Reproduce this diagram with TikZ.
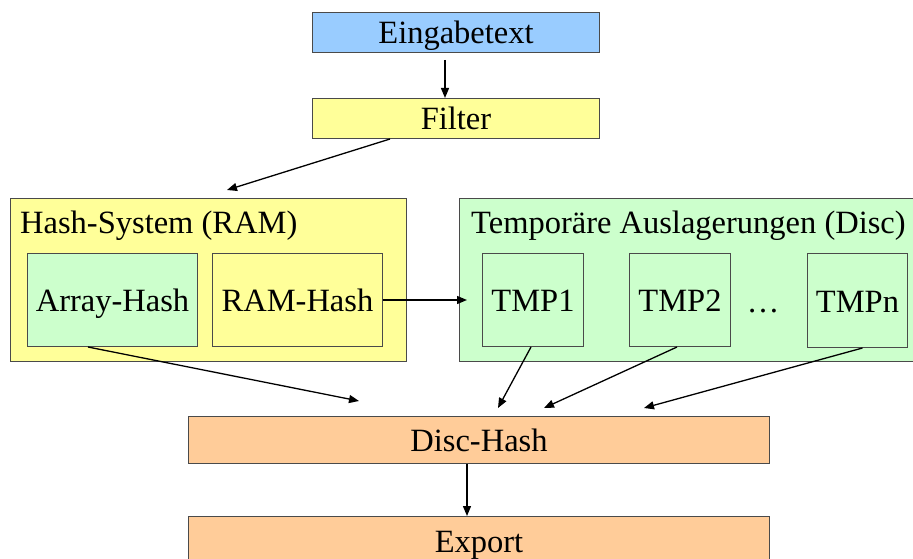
\documentclass[tikz,border=0pt]{standalone}
\usepackage{fontspec}
\setmainfont{Liberation Serif}
\usetikzlibrary{arrows.meta,calc}
\definecolor{cblue}{HTML}{99CCFF}
\definecolor{cyellow}{HTML}{FFFF99}
\definecolor{cgreen}{HTML}{CCFFCC}
\definecolor{corange}{HTML}{FFCC99}
\definecolor{cborder}{HTML}{4A4A4A}
\begin{document}
\begin{tikzpicture}[x=1pt,y=-1pt,
  box/.style={draw=cborder, line width=1pt, inner sep=0pt, anchor=north west,
    text height=23pt, text depth=0pt,
    font=\fontsize{32.5}{38}\selectfont},
  title/.style={inner sep=0pt, anchor=base west, font=\fontsize{32.5}{38}\selectfont},
  arr/.style={draw=black, line width=1.3pt, -{Triangle[length=10pt,width=8pt]}}]
\useasboundingbox (0,0) rectangle (913,559);
\clip (0,0) rectangle (913,559);
% boxes
\node[box, fill=cblue, minimum width=287, minimum height=40] (ein) at (312,12) {Eingabetext};
\node[box, fill=cyellow, minimum width=287, minimum height=40] (fil) at (312,98) {Filter};
\node[box, fill=cyellow, minimum width=396, minimum height=163] (hs) at (10,198) {};
\node[title] (hst) at (20,233) {Hash-System (RAM)};
\node[box, fill=cgreen, minimum width=170, minimum height=93] (ah) at (27,253) {Array-Hash};
\node[box, fill=cyellow, minimum width=170, minimum height=93] (rh) at (212,253) {RAM-Hash};
\node[box, fill=cgreen, minimum width=470, minimum height=163] (tmp) at (459,198) {};
\node[title] (tmpt) at (471,233) {Temporäre Auslagerungen (Disc)};
\node[box, fill=cgreen, minimum width=101, minimum height=93] (t1) at (482,253) {TMP1};
\node[box, fill=cgreen, minimum width=101, minimum height=93] (t2) at (629,253) {TMP2};
\node[title, anchor=base] (dots) at (763,312) {\ldots};
\node[box, fill=cgreen, minimum width=100, minimum height=94] (tn) at (807,253) {TMPn};
\node[box, fill=corange, minimum width=581, minimum height=47] (dh) at (188,416) {Disc-Hash};
\node[box, fill=corange, minimum width=581, minimum height=48] (ex) at (188,516) {Export};
% free arrow ends
\coordinate (fhEnd) at (227,190);
\coordinate (ahEnd) at (359,401);
\coordinate (t1End) at (498,408);
\coordinate (t2End) at (544,408);
\coordinate (tnEnd) at (644,408);
% connectors
\draw[arr, shorten <=7pt] ($(ein.south)+(-11,0)$) -- ($(fil.north)+(-11,0)$);
\draw[arr] ($(fil.south west)+(78,0)$) -- (fhEnd);
\draw[arr] (rh.east) -- ($(t1.west)+(-15,0)$);
\draw[arr] ($(ah.south west)+(61,0)$) -- (ahEnd);
\draw[arr] ($(t1.south)+(-2,0)$) -- (t1End);
\draw[arr] ($(t2.south)+(-3,0)$) -- (t2End);
\draw[arr] ($(tn.south)+(5,0)$) -- (tnEnd);
\draw[arr] ($(dh.south west)+(279,0)$) -- ($(ex.north west)+(279,0)$);
\end{tikzpicture}
\end{document}
